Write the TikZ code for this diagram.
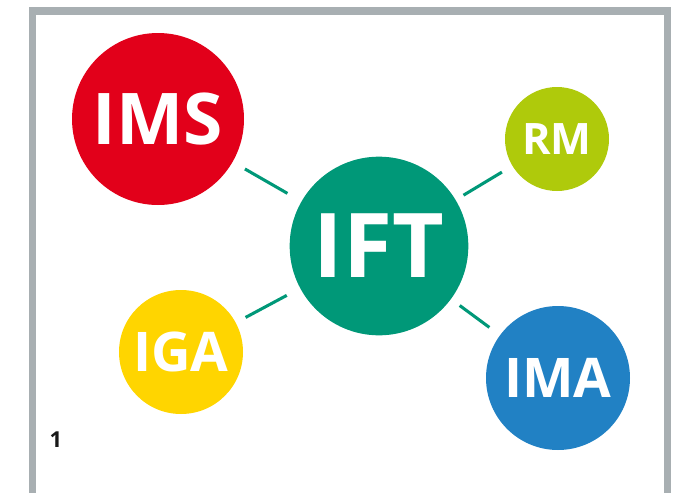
\documentclass[tikz,border=0pt]{standalone}
\usepackage{fontspec}
\setsansfont{Open Sans}
\definecolor{framegray}{HTML}{A8AFB2}
\definecolor{iftgreen}{HTML}{009878}
\definecolor{imsred}{HTML}{E2001A}
\definecolor{rmlime}{HTML}{AFCA0B}
\definecolor{igayellow}{HTML}{FFD500}
\definecolor{imablue}{HTML}{2181C4}
\newcommand{\bigsans}[1]{\sffamily\bfseries\fontsize{#1}{#1}\selectfont}

\begin{document}
\begin{tikzpicture}[x=0.75pt, y=-0.75pt, inst/.style={circle, inner sep=0pt, text=white}, link/.style={draw=iftgreen, line width=2.3pt}]
    \useasboundingbox (0,0) rectangle (683,493);
    \clip (0,0) rectangle (683,493);
    % frame, bottom edge runs off the page
    \draw[framegray, line width=5.6pt] (32.5,500) |- (667.5,11) -- (667.5,500);
    \node[inst, fill=iftgreen, minimum size=134pt, font=\bigsans{67}] (IFT) at (379,246) {IFT};
    \node[inst, fill=imsred, minimum size=129pt, font=\bigsans{53.5}] (IMS) at (158,119) {IMS};
    \node[inst, fill=rmlime, minimum size=78pt, font=\bigsans{32.5}] (RM) at (557,139) {RM};
    \node[inst, fill=igayellow, minimum size=93pt, font=\bigsans{41}] (IGA) at (181,352) {IGA};
    \node[inst, fill=imablue, minimum size=108pt, font=\bigsans{41}] (IMA) at (558,378) {IMA};
    \node[font=\bigsans{16.5}, text=black!90] (num) at (56,440) {1};
    \path
        (IMS) edge [link, shorten <=10.5pt, shorten >=12pt] (IFT)
        (RM) edge [link, shorten <=9pt, shorten >=6.75pt] (IFT)
        (IGA) edge [link, shorten <=8.25pt, shorten >=11.25pt] (IFT)
        (IMA) edge [link, shorten <=9.75pt, shorten >=8pt] (IFT); % short gaps on both ends
\end{tikzpicture}
\end{document}
